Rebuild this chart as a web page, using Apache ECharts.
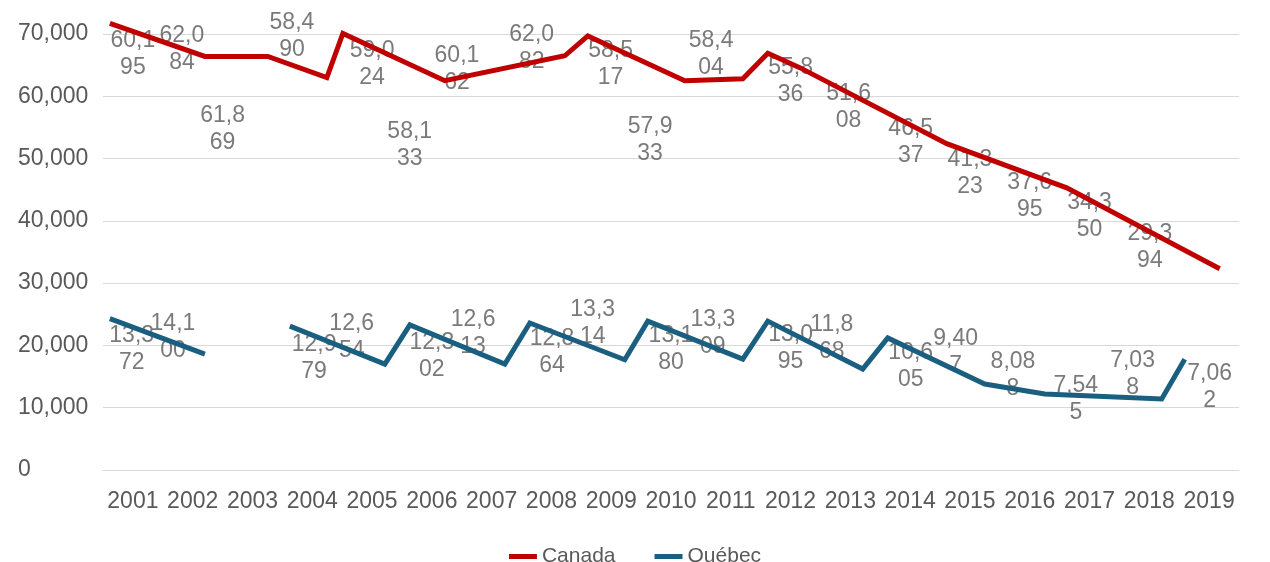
<!DOCTYPE html>
<html>
<head>
<meta charset="utf-8">
<script src="https://cdn.jsdelivr.net/npm/echarts@6/dist/echarts.min.js"></script>
<style>html,body{margin:0;padding:0;background:#fff}#c{width:1270px;height:562px}</style>
</head>
<body>
<div id="c"></div>
<script>
// Categories
const years = ['2001','2002','2003','2004','2005','2006','2007','2008','2009','2010','2011','2012','2013','2014','2015','2016','2017','2018','2019'];
// Data label values
const canadaValues = [60195,62084,61869,58490,59024,58133,60162,62082,58517,57933,58404,55836,51608,46537,41323,37695,34350,29394,27687];
const quebecValues = [13372,14100,null,12979,12654,12302,12613,12864,13314,13180,13309,13095,11868,10605,9407,8088,7545,7038,7062];
// Drawn line vertices (category-index units, values)
const canadaLineX = [-0.385,1.204,2.258,3.244,3.512,5.217,7.224,7.609,9.231,10.201,10.619,11.154,13.612,15.619,18.177];
const canadaLineY = [71700,66400,66400,63000,70100,62500,66500,69700,62500,62800,66900,64600,52400,45300,32300];
const quebecLineX = [-0.385,1.204,1.9,2.625,4.214,4.632,6.221,6.639,8.227,8.612,10.201,10.619,12.207,12.625,14.247,15.251,17.207,17.592];
const quebecLineY = [24300,18600,null,23100,17000,23300,17000,23600,17700,23900,17800,23900,16200,21200,13800,12200,11400,17800];
// Where each data label sits (category-index units, values)
const canadaLabelX = [0.0,0.82,1.5,2.66,4.0,4.63,5.42,6.67,7.99,8.65,9.67,11.0,11.97,13.01,14.0,15.0,16.0,17.01,18.6];
const canadaLabelY = [66700,67600,54700,69700,65200,52100,64300,67800,65100,52900,66800,62400,58200,52700,47700,44000,40700,35700,31500];
const quebecLabelX = [-0.02,0.67,null,3.03,3.66,5.0,5.69,7.01,7.69,9.0,9.7,11.0,11.69,13.01,13.76,14.72,15.77,16.72,18.01];
const quebecLabelY = [19400,21400,null,18000,21400,18300,22000,19000,23500,19400,21900,19600,21200,16700,19000,15300,11300,15400,13300];
// Y ticks
const yTicks = {min: 0, max: 70000, interval: 10000};

const FONT = 'Liberation Sans, Arial, sans-serif';
const TXT = '#595959';
const GRIDC = '#d9d9d9';
const RED = '#C00000';
const BLUE = '#1A5E80';

function fmt(v) { return v.toLocaleString('en-US'); }
function wrap(v) { const s = fmt(v); return s.slice(0, 4) + '\n' + s.slice(4); }

const line = (xs, ys) => xs.map((x, i) => ys[i] == null ? [x, '-'] : [x, ys[i]]);
const labels = (xs, ys, vals) => vals.map((v, i) => v == null ? null : [xs[i], ys[i], v]).filter(d => d);

const chart = echarts.init(document.getElementById('c'), null, {renderer: 'canvas'});
chart.setOption({
  animation: false,
  backgroundColor: '#fff',
  textStyle: {fontFamily: FONT},
  grid: {left: 103, right: 31, top: 34, bottom: 92, containLabel: false, outerBoundsMode: 'none'},
  legend: {
    data: ['Canada', 'Québec'],
    left: 'center', top: 541,
    icon: 'rect', itemWidth: 28, itemHeight: 5, itemGap: 39,
    textStyle: {color: TXT, fontSize: 21, fontFamily: FONT}
  },
  xAxis: [
    {
      type: 'category', data: years, boundaryGap: true,
      axisLine: {show: true, lineStyle: {color: GRIDC, width: 1}},
      axisTick: {show: false},
      axisLabel: {color: TXT, fontSize: 23, fontFamily: FONT, margin: 20, interval: 0}
    },
    {type: 'value', min: -0.5, max: 18.5, show: false}
  ],
  yAxis: {
    type: 'value', min: yTicks.min, max: yTicks.max, interval: yTicks.interval,
    axisLine: {show: false}, axisTick: {show: false},
    splitLine: {lineStyle: {color: GRIDC, width: 1}},
    axisLabel: {color: TXT, fontSize: 23, fontFamily: FONT, align: 'left', margin: 85, formatter: v => fmt(v)}
  },
  series: [
    {
      name: 'Canada labels', type: 'scatter', xAxisIndex: 1, symbolSize: 0, z: 1, silent: true,
      data: labels(canadaLabelX, canadaLabelY, canadaValues),
      label: {show: true, position: 'inside', color: TXT, fontSize: 23, lineHeight: 27, fontFamily: FONT, formatter: p => wrap(p.data[2])}
    },
    {
      name: 'Québec labels', type: 'scatter', xAxisIndex: 1, symbolSize: 0, z: 1, silent: true,
      data: labels(quebecLabelX, quebecLabelY, quebecValues),
      label: {show: true, position: 'inside', color: TXT, fontSize: 23, lineHeight: 27, fontFamily: FONT, formatter: p => wrap(p.data[2])}
    },
    {
      name: 'Canada', type: 'line', xAxisIndex: 1, z: 3, showSymbol: false, clip: false,
      data: line(canadaLineX, canadaLineY),
      itemStyle: {color: RED},
      lineStyle: {color: RED, width: 5, join: 'miter'}
    },
    {
      name: 'Québec', type: 'line', xAxisIndex: 1, z: 3, showSymbol: false, clip: false, connectNulls: false,
      data: line(quebecLineX, quebecLineY),
      itemStyle: {color: BLUE},
      lineStyle: {color: BLUE, width: 5, join: 'miter'}
    }
  ]
});
</script>
</body>
</html>
